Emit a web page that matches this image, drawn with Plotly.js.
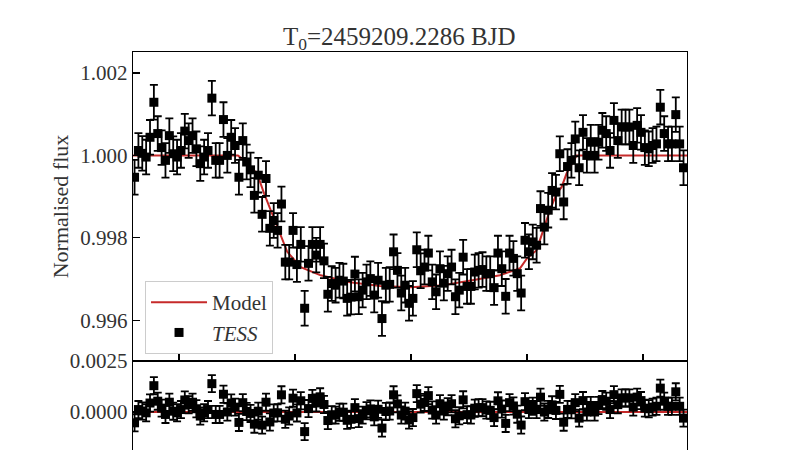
<!DOCTYPE html>
<html><head><meta charset="utf-8">
<script src="https://cdn.plot.ly/plotly-3.0.1.min.js"></script>
<style>html,body{margin:0;padding:0;width:800px;height:450px;overflow:hidden;background:#fff}#chart{width:800px;height:480px}</style>
</head><body><div id="chart"></div><script>
// time from mid-transit, minutes (2-min cadence)
const timeMin = [-143,-141,-139,-137,-135,-133,-131,-129,-127,-125,
-123,-121,-119,-117,-115,-113,-111,-109,-107,-105,
-103,-101,-99,-97,-95,-93,-91,-89,-87,-85,
-83,-81,-79,-77,-75,-73,-71,-69,-67,-65,
-63,-61,-59,-57,-55,-53,-51,-49,-47,-45,
-43,-41,-39,-37,-35,-33,-31,-29,-27,-25,
-23,-21,-19,-17,-15,-13,-11,-9,-7,-5,
-3,-1,1,3,5,7,9,11,13,15,
17,19,21,23,25,27,29,31,33,35,
37,39,41,43,45,47,49,51,53,55,
57,59,61,63,65,67,69,71,73,75,
77,79,81,83,85,87,89,91,93,95,
97,99,101,103,105,107,109,111,113,115,
117,119,121,123,125,127,129,131,133,135,
137,139,141];
const flux = [0.99947,1.00012,1.00005,0.99996,1.00044,1.00129,1.00053,1.00019,0.99988,1.00048,
1.00004,0.99996,1.00012,1.00059,1.00036,1.00048,1.00016,0.99980,0.99996,1.00012,
1.00139,0.99988,0.99988,1.00087,1.00000,1.00044,1.00024,0.99947,1.00036,0.99984,
0.99965,0.99903,0.99952,0.99857,0.99944,0.99823,0.99842,0.99818,0.99882,0.99741,
0.99741,0.99818,0.99735,0.99784,0.99629,0.99738,0.99784,0.99758,0.99784,0.99744,
0.99663,0.99689,0.99685,0.99697,0.99695,0.99653,0.99656,0.99712,0.99657,0.99673,
0.99693,0.99701,0.99661,0.99697,0.99604,0.99685,0.99687,0.99766,0.99721,0.99666,
0.99685,0.99641,0.99653,0.99771,0.99720,0.99729,0.99763,0.99693,0.99669,0.99725,
0.99690,0.99713,0.99729,0.99657,0.99673,0.99753,0.99682,0.99682,0.99717,0.99721,
0.99723,0.99713,0.99713,0.99679,0.99763,0.99725,0.99658,0.99763,0.99750,0.99713,
0.99666,0.99794,0.99766,0.99790,0.99782,0.99871,0.99826,0.99867,0.99915,0.99911,
1.00004,0.99887,0.99973,0.99988,1.00040,0.99970,1.00056,1.00000,1.00032,1.00000,
1.00032,1.00061,1.00053,1.00012,1.00085,1.00036,1.00069,1.00069,1.00069,1.00024,
1.00073,1.00056,1.00019,1.00016,1.00024,1.00028,1.00117,1.00053,1.00028,1.00028,
1.00099,1.00028,0.99970];
const fluxErr = 0.00042;
const modelTime = [-144,-89.5,-86.4,-79.6,-76,-72.6,-67.4,-64,-57,-46.7,-31.5,-16,0,16.6,34,46,56.4,60,65,68.4,71.9,75.4,77.9,80.5,85.7,143];
const modelFlux = [1,1,0.99988,0.99956,0.99908,0.99867,0.99802,0.99766,0.99729,0.99709,0.99692,0.99683,0.99680,0.99685,0.99699,0.99709,0.99726,0.99750,0.99770,0.99818,0.99867,0.99908,0.99923,0.99956,1,1];
const timeTicks = [-120,-60,0,60,120];
const fluxTicks = [0.996,0.998,1.000,1.002];
const residTicks = [0.0000,0.0025];

function modelAt(t){
  for(let k=0;k<modelTime.length-1;k++){
    if(t>=modelTime[k] && t<=modelTime[k+1]){
      const f=(t-modelTime[k])/(modelTime[k+1]-modelTime[k]);
      return modelFlux[k]+f*(modelFlux[k+1]-modelFlux[k]);
    }
  }
  return modelFlux[modelFlux.length-1];
}
const resid = flux.map((f,i)=>f-modelAt(timeMin[i]));
const modelResid = modelFlux.map(m=>m-m);

const red = '#c62a2a';
const txt = '#333333';
const FONT = 'Liberation Serif, Times New Roman, serif';
const errBar = {type:'constant', value:fluxErr, thickness:1.8, width:4, color:'#000'};
const mk = {symbol:'square', size:9, color:'#000'};

const traces = [
  {x:modelTime, y:modelFlux, mode:'lines', line:{color:red, width:2}, name:'Model', xaxis:'x', yaxis:'y'},
  {x:timeMin, y:flux, mode:'markers', marker:mk, error_y:errBar, name:'<i>TESS</i>', xaxis:'x', yaxis:'y'},
  {x:modelTime, y:modelResid, mode:'lines', line:{color:red, width:2}, showlegend:false, xaxis:'x2', yaxis:'y2'},
  {x:timeMin, y:resid, mode:'markers', marker:mk, error_y:errBar, showlegend:false, xaxis:'x2', yaxis:'y2'}
];
const axBase = {showline:true, linecolor:'#000', linewidth:1.3, mirror:true, showgrid:false, zeroline:false,
  ticks:'inside', ticklen:7, tickwidth:1.2, tickcolor:'#000', tickfont:{family:FONT, size:21, color:txt}};
const split = 119/428;
const layout = {
  width:800, height:480,
  margin:{l:133, r:113, t:52, b:0},
  paper_bgcolor:'#fff', plot_bgcolor:'#fff',
  font:{family:FONT, color:txt},
  showlegend:true,
  title:{text:'T<sub>0</sub>=2459209.2286 BJD', x:0.499, xref:'container', xanchor:'center',
         y:1-36/480, yref:'container', yanchor:'middle', font:{family:FONT, size:25, color:txt}},
  xaxis:Object.assign({}, axBase, {domain:[0,1], anchor:'y', range:[-143.8,142.8], tickvals:timeTicks, showticklabels:false}),
  yaxis:Object.assign({}, axBase, {domain:[split,1], anchor:'x', range:[0.99501,1.00251], tickvals:fluxTicks, tickformat:'.3f',
         title:{text:'Normalised flux', font:{family:FONT, size:22, color:txt}, standoff:5}}),
  xaxis2:Object.assign({}, axBase, {domain:[0,1], anchor:'y2', range:[-143.8,142.8], tickvals:timeTicks, showticklabels:false}),
  yaxis2:Object.assign({}, axBase, {domain:[0,split], anchor:'x2', range:[-0.003333,0.0025], tickvals:residTicks, tickformat:'.4f'}),
  legend:{x:0.0217, y:1-(281-52)/428, xanchor:'left', yanchor:'top', bgcolor:'rgba(255,255,255,0.85)',
          bordercolor:'#cccccc', borderwidth:1, font:{family:FONT, size:21, color:txt}, itemwidth:56, tracegroupgap:0}
};
Plotly.newPlot('chart', traces, layout, {displayModeBar:false, staticPlot:true});
</script></body></html>
